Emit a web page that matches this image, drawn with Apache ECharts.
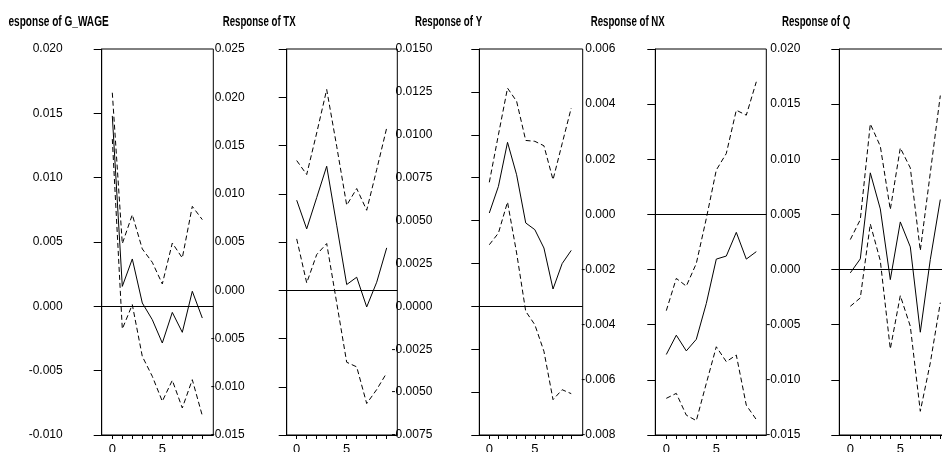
<!DOCTYPE html>
<html>
<head>
<meta charset="utf-8">
<script src="https://cdn.jsdelivr.net/npm/echarts@6/dist/echarts.min.js"></script>
<style>
html,body{margin:0;padding:0;background:#fff;}
#chart{width:942px;height:452px;}
</style>
</head>
<body>
<div id="chart"></div>
<script>
// ---- data ----
const periods = [0, 1, 2, 3, 4, 5, 6, 7, 8, 9];
const xTickValues = [0, 1, 2, 3, 4, 5, 6, 7, 8, 9];
const xLabelValues = [0, 5];
const titles = ['Response of G_WAGE', 'Response of TX', 'Response of Y', 'Response of NX', 'Response of Q'];

const gwage   = [0.0148, 0.00155, 0.00368, 0.00026, -0.00104, -0.00285, -0.00047, -0.00202, 0.00117, -0.00091];
const gwageUp = [0.0166, 0.00487, 0.00712, 0.00446, 0.00342, 0.00174, 0.00492, 0.00376, 0.00777, 0.00674];
const gwageLo = [0.0130, -0.00176, 0.00013, -0.00389, -0.00544, -0.00738, -0.00575, -0.0079, -0.0057, -0.0085];

const tx   = [0.00933, 0.00636, 0.0096, 0.01285, 0.00674, 0.00059, 0.00135, -0.00173, 0.00083, 0.00439];
const txUp = [0.01344, 0.01199, 0.0163, 0.0208, 0.01492, 0.00881, 0.01054, 0.00829, 0.0125, 0.01682];
const txLo = [0.00532, 0.00076, 0.0037, 0.00484, -0.00131, -0.00746, -0.00794, -0.01174, -0.01029, -0.00857];

const yv   = [0.00544, 0.00699, 0.00956, 0.00767, 0.00486, 0.00447, 0.0034, 0.00101, 0.00249, 0.00326];
const yvUp = [0.00723, 0.0100, 0.01272, 0.01195, 0.00967, 0.00962, 0.00936, 0.00738, 0.00948, 0.01156];
const yvLo = [0.00359, 0.00427, 0.00608, 0.00311, -0.00029, -0.00107, -0.00262, -0.00544, -0.00486, -0.00509];

const nx   = [-0.00508, -0.00438, -0.00495, -0.00453, -0.00323, -0.00162, -0.00151, -0.00065, -0.00162, -0.00135];
const nxUp = [-0.00349, -0.00232, -0.0026, -0.00178, -0.00015, 0.00161, 0.00221, 0.00378, 0.0036, 0.00481];
const nxLo = [-0.00667, -0.00649, -0.00728, -0.00748, -0.00613, -0.0048, -0.00534, -0.0051, -0.00692, -0.00744];

const q   = [-0.0003, 0.00097, 0.00877, 0.0055, -0.00091, 0.00432, 0.00206, -0.00568, 0.00091, 0.00635];
const qUp = [0.00272, 0.00453, 0.01321, 0.01119, 0.00544, 0.01103, 0.00922, 0.00172, 0.00877, 0.01578];
const qLo = [-0.00333, -0.00257, 0.00414, 0.0008, -0.0072, -0.00236, -0.00514, -0.01285, -0.00846, -0.003];

// y-axis tick labels: [min, max, step, decimals]
const yMins  = [-0.010, -0.015, -0.0075, -0.008, -0.015];
const yMaxs  = [0.020, 0.025, 0.0150, 0.006, 0.020];
const ySteps = [0.005, 0.005, 0.0025, 0.002, 0.005];
const yDecimals = [3, 3, 4, 3, 3];

const panels = [
  [gwage, gwageUp, gwageLo],
  [tx, txUp, txLo],
  [yv, yvUp, yvLo],
  [nx, nxUp, nxLo],
  [q, qUp, qLo]
];

// ---- layout (positions / styles) ----
const layout = [
  {left: 101.7, width: 111.6, xmin: -1.06, xmax: 10.1, labelMargin: 39, titleX: 108.7, titleAlign: 'right', titleScale: 0.72},
  {left: 286.7, width: 110.6, xmin: -1.0, xmax: 10.06, labelMargin: 42, titleX: 222.7, titleAlign: 'left', titleScale: 0.69},
  {left: 479.3, width: 103.4, xmin: -1.1, xmax: 10.26, labelMargin: 47, titleX: 415, titleAlign: 'left', titleScale: 0.69},
  {left: 655.3, width: 111.0, xmin: -1.1, xmax: 10.0, labelMargin: 40, titleX: 590.7, titleAlign: 'left', titleScale: 0.69},
  {left: 839.3, width: 111.0, xmin: -1.1, xmax: 10.0, labelMargin: 39, titleX: 782, titleAlign: 'left', titleScale: 0.69}
];

const FONT = "'Liberation Sans', Arial, sans-serif";
const TOP = 49, BOTTOM = 17;

const grid = [], xAxis = [], yAxis = [], series = [], graphic = [];

layout.forEach((L, i) => {
  grid.push({
    left: L.left, width: L.width, top: TOP, bottom: BOTTOM,
    show: true, borderColor: '#000', borderWidth: 1, backgroundColor: 'transparent',
    containLabel: false, outerBoundsMode: 'none'
  });
  xAxis.push({
    type: 'value', gridIndex: i, min: L.xmin, max: L.xmax,
    axisLine: {show: true, onZero: false, lineStyle: {color: '#000', width: 1}},
    axisTick: {show: true, length: 4, inside: false, customValues: xTickValues, lineStyle: {color: '#000'}},
    axisLabel: {show: true, customValues: xLabelValues, margin: 8, color: '#000', fontSize: 13, fontFamily: FONT},
    splitLine: {show: false}
  });
  const dec = yDecimals[i];
  yAxis.push({
    type: 'value', gridIndex: i, min: yMins[i], max: yMaxs[i], interval: ySteps[i],
    axisLine: {show: true, onZero: false, lineStyle: {color: '#000', width: 1}},
    axisTick: {show: true, length: 8, inside: false, lineStyle: {color: '#000'}},
    axisLabel: {
      show: true, margin: L.labelMargin, color: '#000', fontSize: 12, fontFamily: FONT,
      hideOverlap: false,
      formatter: v => { const r = Math.round(v / ySteps[i]) * ySteps[i]; return (Math.abs(r) < 1e-12) ? (0).toFixed(dec) : r.toFixed(dec); }
    },
    splitLine: {show: false}
  });
  const [mid, up, lo] = panels[i];
  const mk = (arr, dashed, withZero) => {
    const s = {
      type: 'line', xAxisIndex: i, yAxisIndex: i,
      data: periods.map((p, k) => [p, arr[k]]),
      symbol: 'none', smooth: false, silent: true, animation: false,
      lineStyle: {color: '#000', width: 1, type: dashed ? [5, 3] : 'solid'}
    };
    if (withZero) {
      s.markLine = {
        silent: true, symbol: ['none', 'none'], animation: false,
        label: {show: false},
        lineStyle: {color: '#000', width: 1, type: 'solid'},
        data: [{yAxis: 0}]
      };
    }
    return s;
  };
  series.push(mk(mid, false, true), mk(up, true, false), mk(lo, true, false));
  graphic.push({
    type: 'text', x: L.titleX, y: 22, scaleX: L.titleScale, scaleY: 1, z: 10,
    style: {
      text: titles[i], fill: '#000',
      font: "bold 14px 'Liberation Sans', Arial, sans-serif",
      textAlign: L.titleAlign, textVerticalAlign: 'middle'
    }
  });
});
// the reference image is cropped at its left edge, hiding the first letter of the first title
graphic.push({type: 'rect', x: 0, y: 8, z: 20, shape: {width: 8.5, height: 24}, style: {fill: '#fff'}});

const chart = echarts.init(document.getElementById('chart'), null, {renderer: 'canvas'});
chart.setOption({
  animation: false,
  backgroundColor: '#fff',
  grid, xAxis, yAxis, series, graphic
});
</script>
</body>
</html>
